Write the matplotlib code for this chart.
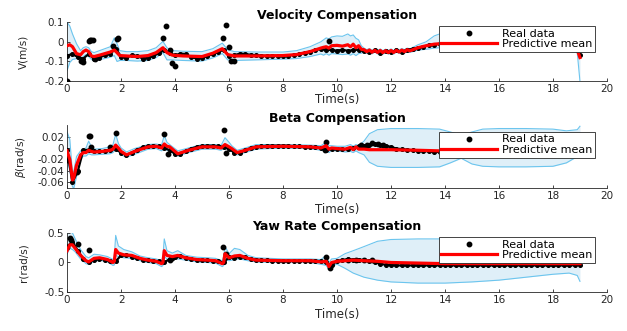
import numpy as np
import matplotlib
matplotlib.use("Agg")
import matplotlib.pyplot as plt

plt.rcParams['font.family'] = ['DejaVu Sans']
plt.rcParams['axes.unicode_minus'] = False

# ---------------- Velocity ----------------
vel_knot_t = [0.0, 0.1, 0.2, 0.35, 0.5, 0.6, 0.7, 0.8, 0.9, 1.0, 1.2, 1.4, 1.6, 1.75, 1.85, 1.95,
              2.2, 2.6, 3.0, 3.3, 3.55, 3.7, 3.9, 4.3, 5.0, 5.4, 5.75, 5.95, 6.2, 7.0, 8.0, 8.5,
              9.0, 9.4, 9.5, 9.6, 9.7, 9.8, 10.0, 10.2, 10.4, 10.5, 10.6, 10.7, 10.8, 10.9,
              11.0, 11.1, 11.2, 11.3, 11.4, 11.5, 11.6, 11.7, 11.8, 11.9, 12.0, 12.1, 12.2, 12.3,
              12.4, 12.5, 12.6, 12.7, 13.0, 13.3, 13.6, 14.0, 15.0, 16.0, 17.0, 18.0, 18.6, 18.9, 19.0]
vel_mean = [-0.020, -0.015, -0.025, -0.060, -0.066, -0.050, -0.042, -0.050, -0.072, -0.075, -0.068, -0.060,
            -0.052, -0.042, -0.055, -0.070, -0.072, -0.075, -0.070, -0.055, -0.030, -0.055, -0.068, -0.072,
            -0.075, -0.058, -0.035, -0.065, -0.072, -0.072, -0.070, -0.065, -0.050, -0.032, -0.028, -0.025,
            -0.032, -0.020, -0.018, -0.022, -0.015, -0.025, -0.012, -0.030, -0.020, -0.038,
            -0.040, -0.050, -0.042, -0.053, -0.043, -0.054, -0.044, -0.055, -0.045, -0.055, -0.044, -0.054,
            -0.043, -0.052, -0.042, -0.050, -0.040, -0.046, -0.030, -0.020, -0.012, -0.008, -0.005, -0.005,
            -0.010, -0.015, -0.020, -0.040, -0.080]
vel_upper = [0.100, 0.080, 0.040, -0.010, -0.045, -0.030, -0.025, -0.030, -0.050, -0.055, -0.045, -0.035,
             -0.025, 0.020, -0.010, -0.045, -0.050, -0.050, -0.045, -0.030, 0.002, -0.030, -0.045, -0.048,
             -0.050, -0.035, -0.007, -0.040, -0.050, -0.052, -0.052, -0.045, -0.025, 0.000, 0.010, 0.020,
             0.015, 0.025, 0.030, 0.028, 0.040, 0.030, 0.035, 0.018, 0.010, -0.020,
             -0.032, -0.040, -0.034, -0.043, -0.035, -0.044, -0.036, -0.045, -0.037, -0.045, -0.036, -0.044,
             -0.035, -0.042, -0.034, -0.040, -0.032, -0.036, -0.015, 0.000, 0.030, 0.050, 0.060, 0.060,
             0.055, 0.040, 0.030, 0.000, -0.030]
vel_lower = [-0.145, -0.105, -0.090, -0.085, -0.088, -0.075, -0.065, -0.075, -0.090, -0.095, -0.090, -0.085,
             -0.078, -0.070, -0.100, -0.095, -0.095, -0.098, -0.095, -0.080, -0.055, -0.092, -0.092, -0.095,
             -0.098, -0.082, -0.060, -0.092, -0.095, -0.092, -0.088, -0.085, -0.075, -0.062, -0.068, -0.060,
             -0.068, -0.060, -0.062, -0.065, -0.062, -0.068, -0.060, -0.070, -0.060, -0.058,
             -0.048, -0.058, -0.050, -0.061, -0.051, -0.062, -0.052, -0.063, -0.053, -0.063, -0.052, -0.062,
             -0.051, -0.060, -0.050, -0.058, -0.048, -0.054, -0.042, -0.038, -0.032, -0.028, -0.035, -0.040,
             -0.042, -0.045, -0.048, -0.055, -0.200]
# measured trace, one sample every 0.2 s from 0 to 19 s
vel_real = [-0.070, -0.062, -0.078, -0.085, -0.062, -0.088, -0.080, -0.068, -0.060, -0.035,
            -0.075, -0.082, -0.068, -0.072, -0.085, -0.082, -0.072, -0.058, -0.040, -0.058,
            -0.068, -0.060, -0.062, -0.078, -0.085, -0.082, -0.072, -0.062, -0.052, -0.040,
            -0.072, -0.068, -0.060, -0.062, -0.066, -0.068, -0.070, -0.072, -0.070, -0.072,
            -0.070, -0.070, -0.066, -0.062, -0.055, -0.050, -0.042, -0.036, -0.040, -0.042,
            -0.045, -0.040, -0.046, -0.042, -0.040, -0.046, -0.052, -0.044, -0.056, -0.046,
            -0.054, -0.044, -0.050, -0.040, -0.036, -0.030, -0.024, -0.018, -0.014, -0.010,
            -0.008, -0.008, -0.008, -0.009, -0.009, -0.010, -0.010, -0.010, -0.011, -0.012,
            -0.012, -0.013, -0.014, -0.014, -0.015, -0.016, -0.016, -0.017, -0.018, -0.019,
            -0.020, -0.022, -0.024, -0.028, -0.035, -0.065]
vel_out_t = [0.0, 0.5, 0.6, 0.8, 0.85, 0.9, 0.95, 1.05, 1.7, 1.85, 1.9,
             3.56, 3.68, 3.8, 3.9, 4.0, 5.79, 5.9, 6.0, 6.07, 6.2, 9.7]
vel_out_v = [-0.200, -0.100, -0.102, 0.005, 0.008, 0.008, 0.010, -0.090, -0.020, 0.015, 0.018,
             0.020, 0.080, -0.040, -0.107, -0.124, 0.020, 0.085, -0.025, -0.100, -0.097, 0.005]

# ---------------- Beta ----------------
beta_knot_t = [0.0, 0.1, 0.2, 0.25, 0.35, 0.5, 0.6, 0.7, 0.8, 0.9, 1.0, 1.3, 1.6, 1.7, 1.8, 1.9, 2.0,
               2.2, 2.5, 3.0, 3.3, 3.5, 3.6, 3.7, 3.8, 4.1, 4.5, 5.0, 5.5, 5.7, 5.85, 6.0, 6.1, 6.3,
               6.6, 7.0, 8.0, 9.0, 9.4, 9.6, 9.7, 9.8, 10.0, 10.3, 10.5, 10.6, 10.7, 10.8, 11.0,
               11.2, 11.5, 12.0, 13.0, 13.8, 14.2, 14.6, 15.0, 15.4, 16.0, 17.0, 18.0, 18.5, 18.9, 19.0]
beta_mean = [-0.005, -0.020, -0.056, -0.052, -0.030, -0.012, -0.008, -0.008, -0.004, -0.006, -0.007,
             -0.006, -0.004, -0.002, 0.005, 0.000, -0.006, -0.012, -0.006, 0.002, 0.003, 0.000, 0.007,
             0.003, 0.002, -0.010, -0.004, 0.002, 0.002, 0.000, 0.006, 0.002, -0.001, -0.008, -0.004,
             0.002, 0.003, 0.002, 0.000, 0.004, -0.002, 0.000, -0.001, -0.002, 0.001, -0.003, 0.002,
             -0.002, -0.002, -0.003, -0.003, -0.003, -0.004, -0.005, -0.005, -0.005, -0.005, -0.005,
             -0.005, -0.005, -0.005, -0.005, -0.005, -0.005]
beta_upper = [0.028, 0.015, -0.045, -0.040, -0.015, -0.005, -0.002, 0.000, 0.012, 0.002, -0.002,
              -0.001, 0.002, 0.006, 0.024, 0.008, 0.000, -0.007, -0.001, 0.006, 0.007, 0.005, 0.022,
              0.010, 0.006, -0.005, 0.000, 0.006, 0.006, 0.004, 0.018, 0.010, 0.004, -0.004, 0.000,
              0.006, 0.006, 0.005, 0.004, 0.010, 0.004, 0.004, 0.003, 0.003, 0.006, 0.003, 0.006,
              0.004, 0.012, 0.025, 0.032, 0.034, 0.034, 0.033, 0.028, 0.022, 0.028, 0.033, 0.034,
              0.034, 0.033, 0.030, 0.032, 0.038]
beta_lower = [-0.020, -0.040, -0.068, -0.070, -0.050, -0.020, -0.014, -0.014, -0.010, -0.012, -0.012,
              -0.011, -0.010, -0.008, -0.002, -0.006, -0.012, -0.016, -0.011, -0.002, -0.001, -0.005,
              0.000, -0.004, -0.006, -0.014, -0.008, -0.002, -0.002, -0.004, 0.000, -0.004, -0.006,
              -0.012, -0.008, -0.002, 0.000, -0.001, -0.004, -0.004, -0.008, -0.004, -0.005, -0.007,
              -0.006, -0.008, -0.005, -0.008, -0.012, -0.025, -0.032, -0.034, -0.034, -0.033, -0.026,
              -0.018, -0.028, -0.032, -0.033, -0.033, -0.032, -0.026, -0.015, -0.008]
beta_real = [-0.004, -0.060, -0.040, -0.004, -0.003, -0.006, -0.006, -0.005, -0.003, -0.002,
             -0.008, -0.012, -0.008, -0.003, 0.001, 0.003, 0.004, 0.003, 0.000, -0.004,
             -0.010, -0.010, -0.005, -0.001, 0.002, 0.003, 0.004, 0.004, 0.003, 0.002,
             -0.002, -0.008, -0.008, -0.004, 0.000, 0.002, 0.003, 0.004, 0.004, 0.004,
             0.004, 0.004, 0.003, 0.003, 0.002, 0.002, 0.001, 0.000, -0.004, -0.002,
             -0.001, -0.002, -0.002, 0.000, 0.003, 0.004, 0.006, 0.007, 0.005, 0.004,
             0.002, -0.001, -0.002, -0.003, -0.004, -0.005, -0.005, -0.006, -0.007, -0.007,
             -0.007, -0.007, -0.007, -0.007, -0.007, -0.007, -0.007, -0.007, -0.007, -0.007,
             -0.007, -0.007, -0.007, -0.007, -0.007, -0.007, -0.007, -0.007, -0.007, -0.007,
             -0.007, -0.007, -0.006, -0.006, -0.006, -0.006]
beta_out_t = [0.0, 0.36, 0.8, 0.85, 0.9, 1.6, 1.8, 3.6, 3.75, 5.8, 5.9, 9.6, 9.55,
              10.9, 11.1, 11.3, 11.5, 11.7]
beta_out_v = [-0.021, -0.042, 0.021, 0.021, 0.002, 0.001, 0.027, 0.025, -0.010, 0.031, -0.008,
              0.010, -0.004, 0.005, 0.006, 0.008, 0.007, 0.006]

# ---------------- Yaw rate ----------------
yaw_knot_t = [0.0, 0.1, 0.2, 0.3, 0.5, 0.7, 0.8, 1.0, 1.2, 1.5, 1.7, 1.75, 1.8, 1.9, 2.1, 2.4, 2.7,
              3.0, 3.3, 3.5, 3.55, 3.6, 3.7, 3.9, 4.1, 4.4, 4.8, 5.2, 5.5, 5.75, 5.8, 5.85, 6.0,
              6.2, 6.4, 6.7, 7.0, 8.0, 9.0, 9.4, 9.6, 9.7, 9.8, 10.0, 10.3, 10.6, 11.0, 11.5,
              12.0, 13.0, 14.0, 15.0, 16.0, 17.0, 18.0, 18.6, 18.9, 19.0]
yaw_mean = [0.20, 0.30, 0.30, 0.24, 0.12, 0.03, 0.01, 0.07, 0.08, 0.05, 0.00, 0.02, 0.22, 0.16,
            0.13, 0.12, 0.07, 0.04, 0.02, -0.02, 0.00, 0.20, 0.12, 0.10, 0.12, 0.08, 0.05, 0.04,
            0.03, -0.02, 0.00, 0.15, 0.08, 0.11, 0.12, 0.07, 0.04, 0.03, 0.03, 0.01, 0.02, -0.07,
            0.00, 0.02, 0.03, 0.04, 0.03, 0.02, 0.00, -0.01, -0.02, -0.02, -0.02, -0.02, -0.02,
            -0.02, -0.02, -0.02]
yaw_upper = [0.50, 0.52, 0.50, 0.40, 0.22, 0.10, 0.08, 0.14, 0.13, 0.10, 0.05, 0.10, 0.46, 0.28,
             0.22, 0.18, 0.11, 0.08, 0.06, 0.03, 0.10, 0.40, 0.20, 0.16, 0.20, 0.12, 0.09, 0.08,
             0.07, 0.03, 0.10, 0.27, 0.15, 0.24, 0.22, 0.12, 0.08, 0.06, 0.06, 0.05, 0.12, 0.00,
             0.06, 0.07, 0.15, 0.20, 0.27, 0.36, 0.39, 0.40, 0.40, 0.38, 0.32, 0.25, 0.20, 0.15,
             0.10, 0.05]
yaw_lower = [0.15, 0.24, 0.22, 0.18, 0.06, -0.02, -0.03, 0.02, 0.04, 0.01, -0.05, -0.04, 0.12, 0.10,
             0.08, 0.07, 0.03, 0.00, -0.02, -0.07, -0.05, 0.10, 0.06, 0.05, 0.06, 0.04, 0.01, 0.00,
             -0.01, -0.07, -0.05, 0.05, 0.03, 0.05, 0.06, 0.03, 0.01, 0.00, 0.00, -0.03, -0.05,
             -0.12, -0.06, -0.03, -0.10, -0.18, -0.25, -0.30, -0.33, -0.35, -0.35, -0.33, -0.30,
             -0.25, -0.20, -0.18, -0.22, -0.32]
yaw_real = [0.27, 0.35, 0.20, 0.06, 0.00, 0.05, 0.06, 0.05, 0.02, 0.02,
            0.12, 0.12, 0.10, 0.07, 0.05, 0.04, 0.03, 0.02, 0.00, 0.06,
            0.09, 0.11, 0.08, 0.06, 0.05, 0.04, 0.04, 0.03, 0.02, 0.00,
            0.09, 0.07, 0.10, 0.09, 0.06, 0.05, 0.04, 0.04, 0.03, 0.03,
            0.03, 0.03, 0.03, 0.03, 0.03, 0.03, 0.03, 0.02, 0.00, -0.05,
            0.03, 0.04, 0.06, 0.05, 0.05, 0.04, 0.03, 0.00, -0.02, -0.04,
            -0.045, -0.05, -0.05, -0.05, -0.05, -0.05, -0.05, -0.05, -0.05, -0.05,
            -0.05, -0.05, -0.05, -0.05, -0.05, -0.05, -0.05, -0.05, -0.05, -0.05,
            -0.05, -0.05, -0.05, -0.05, -0.05, -0.05, -0.05, -0.05, -0.05, -0.05,
            -0.05, -0.05, -0.05, -0.05, -0.045, -0.04]
yaw_out_t = [0.0, 0.1, 0.15, 0.42, 0.83, 3.8, 3.9, 5.78, 5.9, 9.6, 9.75, 10.4, 10.7, 11.0, 11.3]
yaw_out_v = [0.27, 0.41, 0.38, 0.32, 0.21, 0.05, 0.07, 0.26, 0.15, 0.10, -0.10, 0.05, 0.05, 0.04, 0.04]

real_dt = 0.2  # sampling step of the measured traces

panels = [
    ("Velocity Compensation", "V(m/s)", vel_knot_t, vel_mean, vel_upper, vel_lower,
     vel_real, vel_out_t, vel_out_v, (-0.2, 0.1), [-0.2, -0.1, 0, 0.1], ["-0.2", "-0.1", "0", "0.1"]),
    ("Beta Compensation", r"$\beta$(rad/s)", beta_knot_t, beta_mean, beta_upper, beta_lower,
     beta_real, beta_out_t, beta_out_v, (-0.07, 0.04), [-0.06, -0.04, -0.02, 0, 0.02],
     ["-0.06", "-0.04", "-0.02", "0", "0.02"]),
    ("Yaw Rate Compensation", "r(rad/s)", yaw_knot_t, yaw_mean, yaw_upper, yaw_lower,
     yaw_real, yaw_out_t, yaw_out_v, (-0.5, 0.5), [-0.5, 0, 0.5], ["-0.5", "0", "0.5"]),
]

# axes boxes [left, bottom, width, height] in figure fractions
boxes = [[0.107, 0.755, 0.861, 0.178],
         [0.107, 0.432, 0.861, 0.190],
         [0.107, 0.118, 0.861, 0.178]]
xlabel_y = [-0.2, -0.24, -0.27]
legend_top = [0.935, 0.895, 0.935]

band_face = '#dfeff8'
band_edge = '#6cc5ee'
axis_col = '#262626'

fig = plt.figure(figsize=(6.27, 3.31), dpi=100)

for i, (title, ylab, kt, mean, up, lo, real, ot, ov, ylim, yt, ytl) in enumerate(panels):
    ax = fig.add_axes(boxes[i])
    real_t = np.arange(len(real)) * real_dt

    ax.fill_between(kt, lo, up, color=band_face, lw=0, zorder=1)
    ax.plot(kt, up, color=band_edge, lw=0.8, zorder=2)
    ax.plot(kt, lo, color=band_edge, lw=0.8, zorder=2)
    ax.plot(real_t, real, color='k', lw=1.6, marker='o', ms=2.6, zorder=3)
    ax.plot(ot, ov, 'o', color='k', ms=3.2, zorder=3, label='Real data')
    ax.plot(kt, mean, color='#ff0000', lw=2.3, zorder=4, label='Predictive mean')

    ax.set_xlim(0, 20)
    ax.set_ylim(*ylim)
    ax.set_xticks(np.arange(0, 21, 2))
    ax.set_yticks(yt)
    ax.set_yticklabels(ytl)
    for s in ['top', 'right']:
        ax.spines[s].set_visible(False)
    for s in ['left', 'bottom']:
        ax.spines[s].set_color(axis_col)
        ax.spines[s].set_linewidth(0.6)
    ax.tick_params(direction='in', length=2.5, width=0.6, colors=axis_col,
                   labelsize=7.5, pad=2)

    ax.set_title(title, fontsize=9, fontweight='bold', pad=2.5)
    ax.set_xlabel('Time(s)', fontsize=8.5, color=axis_col)
    ax.xaxis.set_label_coords(0.5, xlabel_y[i])
    ax.set_ylabel(ylab, fontsize=7.5, color=axis_col)
    ax.yaxis.set_label_coords(-0.072, 0.5)

    leg = ax.legend(loc='upper right', bbox_to_anchor=(0.978, legend_top[i]),
                    fontsize=8, numpoints=1, handlelength=5.0, handletextpad=0.45,
                    labelspacing=0.05, borderpad=0.25, borderaxespad=0,
                    fancybox=False, framealpha=1, edgecolor='#262626')
    leg.get_frame().set_linewidth(0.6)
    leg.set_zorder(10)

fig.savefig('out.png', dpi=100)
